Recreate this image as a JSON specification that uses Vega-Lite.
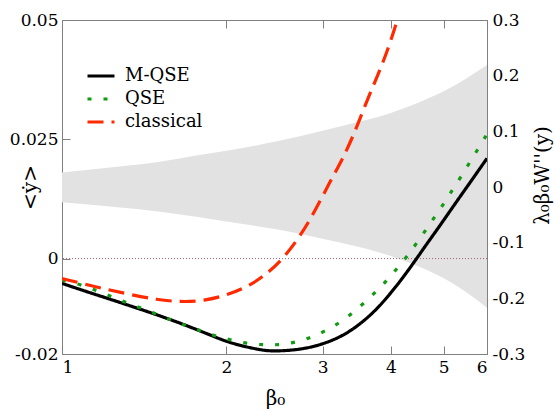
{
  "$schema": "https://vega.github.io/schema/vega-lite/v6.json",
  "width": 425,
  "height": 334,
  "autosize": {"type": "none"},
  "padding": {"left": 62, "top": 20, "right": 67, "bottom": 58},
  "config": {
    "view": {"stroke": "#808080", "strokeWidth": 1},
    "font": "DejaVu Serif",
    "axis": {
      "grid": false,
      "domainColor": "#808080",
      "tickColor": "#808080",
      "labelFont": "DejaVu Serif",
      "labelFontSize": 17,
      "labelColor": "#000000",
      "titleFont": "DejaVu Serif",
      "titleFontSize": 20,
      "titleFontWeight": "normal",
      "titleColor": "#000000",
      "tickSize": -8,
      "labelPadding": 12
    },
    "legend": {
      "labelFont": "DejaVu Serif"
    }
  },
  "datasets": {
    "band": [
      {"beta": 1.0, "lo": -0.0275, "hi": 0.026},
      {"beta": 1.25, "lo": -0.036, "hi": 0.036},
      {"beta": 1.5, "lo": -0.044, "hi": 0.045},
      {"beta": 1.75, "lo": -0.053, "hi": 0.056},
      {"beta": 2.0, "lo": -0.062, "hi": 0.065},
      {"beta": 2.5, "lo": -0.077, "hi": 0.083},
      {"beta": 3.0, "lo": -0.093, "hi": 0.101},
      {"beta": 3.5, "lo": -0.108, "hi": 0.117},
      {"beta": 4.0, "lo": -0.124, "hi": 0.133},
      {"beta": 4.5, "lo": -0.143, "hi": 0.152},
      {"beta": 5.0, "lo": -0.164, "hi": 0.172},
      {"beta": 5.5, "lo": -0.189, "hi": 0.195},
      {"beta": 6.0, "lo": -0.217, "hi": 0.219}
    ],
    "curves": [
      {"beta": 1.0, "y": -0.0052, "series": "M-QSE"},
      {"beta": 1.1, "y": -0.0068, "series": "M-QSE"},
      {"beta": 1.224, "y": -0.0085, "series": "M-QSE"},
      {"beta": 1.39, "y": -0.0106, "series": "M-QSE"},
      {"beta": 1.511, "y": -0.012, "series": "M-QSE"},
      {"beta": 1.68, "y": -0.0139, "series": "M-QSE"},
      {"beta": 1.866, "y": -0.016, "series": "M-QSE"},
      {"beta": 2.0, "y": -0.0174, "series": "M-QSE"},
      {"beta": 2.15, "y": -0.0184, "series": "M-QSE"},
      {"beta": 2.304, "y": -0.0191, "series": "M-QSE"},
      {"beta": 2.4, "y": -0.0194, "series": "M-QSE"},
      {"beta": 2.6, "y": -0.0193, "series": "M-QSE"},
      {"beta": 2.8, "y": -0.0188, "series": "M-QSE"},
      {"beta": 2.967, "y": -0.0181, "series": "M-QSE"},
      {"beta": 3.2, "y": -0.0167, "series": "M-QSE"},
      {"beta": 3.414, "y": -0.0148, "series": "M-QSE"},
      {"beta": 3.62, "y": -0.0125, "series": "M-QSE"},
      {"beta": 3.82, "y": -0.0099, "series": "M-QSE"},
      {"beta": 4.02, "y": -0.0069, "series": "M-QSE"},
      {"beta": 4.216, "y": -0.0039, "series": "M-QSE"},
      {"beta": 4.46, "y": 0.0, "series": "M-QSE"},
      {"beta": 4.65, "y": 0.003, "series": "M-QSE"},
      {"beta": 4.85, "y": 0.0059, "series": "M-QSE"},
      {"beta": 5.13, "y": 0.0099, "series": "M-QSE"},
      {"beta": 5.35, "y": 0.0129, "series": "M-QSE"},
      {"beta": 5.6, "y": 0.0161, "series": "M-QSE"},
      {"beta": 5.8, "y": 0.0186, "series": "M-QSE"},
      {"beta": 6.0, "y": 0.021, "series": "M-QSE"},
      {"beta": 1.0, "y": -0.0045, "series": "QSE"},
      {"beta": 1.079, "y": -0.0054, "series": "QSE"},
      {"beta": 1.149, "y": -0.0066, "series": "QSE"},
      {"beta": 1.224, "y": -0.0078, "series": "QSE"},
      {"beta": 1.304, "y": -0.0091, "series": "QSE"},
      {"beta": 1.39, "y": -0.0103, "series": "QSE"},
      {"beta": 1.48, "y": -0.0115, "series": "QSE"},
      {"beta": 1.577, "y": -0.0128, "series": "QSE"},
      {"beta": 1.68, "y": -0.014, "series": "QSE"},
      {"beta": 1.79, "y": -0.0151, "series": "QSE"},
      {"beta": 1.906, "y": -0.0162, "series": "QSE"},
      {"beta": 2.04, "y": -0.0171, "series": "QSE"},
      {"beta": 2.178, "y": -0.0178, "series": "QSE"},
      {"beta": 2.336, "y": -0.0181, "series": "QSE"},
      {"beta": 2.49, "y": -0.0181, "series": "QSE"},
      {"beta": 2.67, "y": -0.0176, "series": "QSE"},
      {"beta": 2.85, "y": -0.0166, "series": "QSE"},
      {"beta": 3.03, "y": -0.0152, "series": "QSE"},
      {"beta": 3.22, "y": -0.0135, "series": "QSE"},
      {"beta": 3.4, "y": -0.0115, "series": "QSE"},
      {"beta": 3.58, "y": -0.0092, "series": "QSE"},
      {"beta": 3.76, "y": -0.0069, "series": "QSE"},
      {"beta": 3.94, "y": -0.0045, "series": "QSE"},
      {"beta": 4.12, "y": -0.0019, "series": "QSE"},
      {"beta": 4.3, "y": 0.0007, "series": "QSE"},
      {"beta": 4.47, "y": 0.0034, "series": "QSE"},
      {"beta": 4.65, "y": 0.0062, "series": "QSE"},
      {"beta": 4.83, "y": 0.009, "series": "QSE"},
      {"beta": 5.03, "y": 0.0119, "series": "QSE"},
      {"beta": 5.21, "y": 0.0148, "series": "QSE"},
      {"beta": 5.41, "y": 0.0176, "series": "QSE"},
      {"beta": 5.6, "y": 0.0205, "series": "QSE"},
      {"beta": 5.81, "y": 0.0234, "series": "QSE"},
      {"beta": 6.0, "y": 0.0261, "series": "QSE"},
      {"beta": 1.0, "y": -0.0042, "series": "classical"},
      {"beta": 1.097, "y": -0.0053, "series": "classical"},
      {"beta": 1.2, "y": -0.0064, "series": "classical"},
      {"beta": 1.342, "y": -0.0076, "series": "classical"},
      {"beta": 1.49, "y": -0.0086, "series": "classical"},
      {"beta": 1.645, "y": -0.0091, "series": "classical"},
      {"beta": 1.815, "y": -0.0089, "series": "classical"},
      {"beta": 2.03, "y": -0.0075, "series": "classical"},
      {"beta": 2.23, "y": -0.0054, "series": "classical"},
      {"beta": 2.4, "y": -0.0027, "series": "classical"},
      {"beta": 2.54, "y": 0.0, "series": "classical"},
      {"beta": 2.727, "y": 0.0046, "series": "classical"},
      {"beta": 2.9, "y": 0.0098, "series": "classical"},
      {"beta": 3.095, "y": 0.0161, "series": "classical"},
      {"beta": 3.27, "y": 0.021, "series": "classical"},
      {"beta": 3.44, "y": 0.0266, "series": "classical"},
      {"beta": 3.61, "y": 0.0329, "series": "classical"},
      {"beta": 3.79, "y": 0.0385, "series": "classical"},
      {"beta": 3.96, "y": 0.0441, "series": "classical"},
      {"beta": 4.1, "y": 0.0496, "series": "classical"},
      {"beta": 4.15, "y": 0.0515, "series": "classical"}
    ]
  },
  "layer": [
    {
      "data": {"name": "band"},
      "mark": {"type": "area", "color": "#e2e2e2", "interpolate": "monotone"},
      "encoding": {
        "x": {
          "field": "beta",
          "type": "quantitative",
          "scale": {"type": "log", "domain": [1, 6], "nice": false},
          "axis": {"orient": "top", "values": [1, 2, 3, 4, 5, 6], "labels": false, "title": null, "domain": false}
        },
        "y": {
          "field": "lo",
          "type": "quantitative",
          "scale": {"domain": [-0.3, 0.3], "nice": false, "zero": false},
          "axis": {
            "orient": "right",
            "values": [-0.3, -0.2, -0.1, 0, 0.1, 0.2, 0.3],
            "labelExpr": "toString(datum.value)",
            "labelPadding": 13,
            "title": "λ₀β₀W''(y)",
            "titleAngle": 270,
            "titleX": 55,
            "titleY": 155,
            "titleAlign": "center",
            "titleBaseline": "middle"
          }
        },
        "y2": {"field": "hi"}
      }
    },
    {
      "layer": [
        {
          "data": {"values": [{"y": 0}]},
          "mark": {"type": "rule", "color": "#a0607a", "strokeDash": [1, 2], "strokeWidth": 1},
          "encoding": {
            "y": {"field": "y", "type": "quantitative"}
          }
        },
        {
          "data": {"name": "curves"},
          "mark": {"type": "line", "interpolate": "basis", "clip": true, "strokeWidth": 3.2, "strokeCap": "butt"},
          "encoding": {
            "x": {
              "field": "beta",
              "type": "quantitative",
              "scale": {"type": "log", "domain": [1, 6], "nice": false},
              "axis": {
                "orient": "bottom",
                "values": [1, 2, 3, 4, 5, 6],
                "format": "d",
                "labelPadding": 13,
                "title": "β₀",
                "titleX": 213,
                "titleY": 50,
                "titleAlign": "center",
                "titleBaseline": "alphabetic"
              }
            },
            "y": {
              "field": "y",
              "type": "quantitative",
              "scale": {"domain": [-0.02, 0.05], "nice": false, "zero": false},
              "axis": {
                "orient": "left",
                "values": [-0.02, 0, 0.025, 0.05],
                "labelExpr": "toString(datum.value)",
                "title": "<ẏ>",
                "titleAngle": 270,
                "titleX": -32,
                "titleY": 167,
                "titleAlign": "center",
                "titleBaseline": "middle"
              }
            },
            "color": {
              "field": "series",
              "type": "nominal",
              "scale": {"domain": ["M-QSE", "QSE", "classical"], "range": ["#000000", "#129a12", "#ff2a00"]},
              "legend": {"orient": "none", "legendX": 24, "legendY": 46, "title": null, "symbolType": "stroke", "symbolSize": 729, "symbolStrokeWidth": 3, "labelFontSize": 18, "clipHeight": 20, "rowPadding": 3, "padding": 0, "labelOffset": 9}
            },
            "strokeDash": {
              "field": "series",
              "type": "nominal",
              "scale": {"domain": ["M-QSE", "QSE", "classical"], "range": [[1, 0], [4, 12], [16, 8]]},
              "legend": {"orient": "none", "legendX": 24, "legendY": 46, "title": null, "symbolType": "stroke", "symbolSize": 729, "symbolStrokeWidth": 3, "labelFontSize": 18, "clipHeight": 20, "rowPadding": 3, "padding": 0, "labelOffset": 9}
            }
          }
        }
      ]
    }
  ],
  "resolve": {"scale": {"y": "independent"}, "axis": {"x": "independent"}}
}
